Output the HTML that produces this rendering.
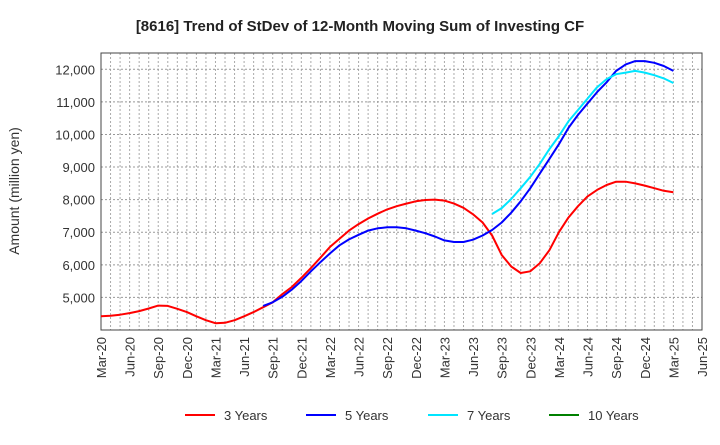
<!DOCTYPE html>
<html><head><meta charset="utf-8"><style>
body{margin:0;background:#fff;font-family:"Liberation Sans",sans-serif;}
svg text{font-family:"Liberation Sans",sans-serif;fill:#333;}
</style></head><body>
<svg id="chart" width="720" height="440">
<text x="360" y="31" text-anchor="middle" font-size="15" font-weight="bold" style="fill:#222">[8616]  Trend of StDev of 12-Month Moving Sum of Investing CF</text>
<text transform="translate(19,191) rotate(-90)" text-anchor="middle" font-size="14">Amount (million yen)</text>
<g id="grid"></g><g id="axes"></g><g id="series"></g><g id="legend"></g>
</svg>
<script>
const xLabels=["Mar-20","Jun-20","Sep-20","Dec-20","Mar-21","Jun-21","Sep-21","Dec-21","Mar-22","Jun-22","Sep-22","Dec-22","Mar-23","Jun-23","Sep-23","Dec-23","Mar-24","Jun-24","Sep-24","Dec-24","Mar-25","Jun-25"];
const yTicks=[5000,6000,7000,8000,9000,10000,11000,12000];
const seriesNames=["3 Years","5 Years","7 Years","10 Years"];
const seriesColors=["#ff0000","#0000ff","#00e5ff","#008000"];
const s3=[4420,4440,4470,4520,4580,4660,4750,4740,4650,4550,4420,4300,4210,4220,4300,4420,4550,4700,4850,5100,5320,5600,5900,6220,6550,6800,7050,7250,7420,7570,7700,7800,7880,7950,7990,8000,7970,7880,7750,7550,7300,6900,6300,5950,5750,5800,6050,6450,7000,7450,7800,8100,8300,8450,8550,8550,8500,8430,8350,8270,8230];
const s5Start=17;
const s5=[4740,4850,5020,5240,5500,5800,6080,6350,6600,6780,6920,7050,7120,7150,7150,7120,7050,6970,6870,6750,6700,6700,6770,6900,7070,7300,7600,7950,8350,8800,9250,9700,10200,10600,10950,11300,11600,11950,12150,12250,12250,12200,12100,11950];
const s7Start=41;
const s7=[7560,7740,8020,8350,8700,9100,9550,9950,10400,10750,11100,11450,11700,11850,11900,11950,11900,11820,11720,11580];
const L=101,R=702,T=53,B=330,yMin=4000,yMax=12500,nMonths=63;
const ns="http://www.w3.org/2000/svg";
function X(i){return L+i*(R-L)/nMonths;}
function Y(v){return B-(v-yMin)/(yMax-yMin)*(B-T);}
function mk(tag,attrs,parent){const e=document.createElementNS(ns,tag);for(const k in attrs)e.setAttribute(k,attrs[k]);parent.appendChild(e);return e;}
const grid=document.getElementById('grid'),axes=document.getElementById('axes'),ser=document.getElementById('series'),leg=document.getElementById('legend');
for(let i=1;i<nMonths;i++){const l=mk('line',{x1:X(i),x2:X(i),y1:T,y2:B,stroke:'#aaa','stroke-dasharray':'2,2','stroke-width':1},grid);

}
yTicks.forEach(v=>{const l=mk('line',{x1:L,x2:R,y1:Y(v),y2:Y(v),stroke:'#999','stroke-dasharray':'2,2','stroke-width':1},grid);


const t=mk('text',{x:L-6,y:Y(v)+5,'text-anchor':'end','font-size':13},axes);t.textContent=v.toLocaleString('en-US');

});
const fr=mk('rect',{x:L,y:T,width:R-L,height:B-T,fill:'none',stroke:'#444','stroke-width':1},axes);


xLabels.forEach((lb,i)=>{const x=X(i*3);const t=mk('text',{transform:`translate(${x+5},${B+7}) rotate(-90)`,'text-anchor':'end','font-size':13},axes);t.textContent=lb;

});
function line(arr,start,color,name){const p=arr.map((v,i)=>`${i?'L':'M'}${X(start+i).toFixed(1)},${Y(v).toFixed(1)}`).join('');
const e=mk('path',{d:p,fill:'none',stroke:color,'stroke-width':2,'stroke-linejoin':'round'},ser);

}
line(s3,0,seriesColors[0],'line-3-years');
line(s5,s5Start,seriesColors[1],'line-5-years');
line(s7,s7Start,seriesColors[2],'line-7-years');
const lx=[185,306,428,549];
seriesNames.forEach((n,i)=>{const g=mk('g',{},leg);


mk('line',{x1:lx[i],x2:lx[i]+30,y1:415,y2:415,stroke:seriesColors[i],'stroke-width':2},g);
const t=mk('text',{x:lx[i]+39,y:420,'font-size':13},g);t.textContent=n;});
</script>
</body></html>
